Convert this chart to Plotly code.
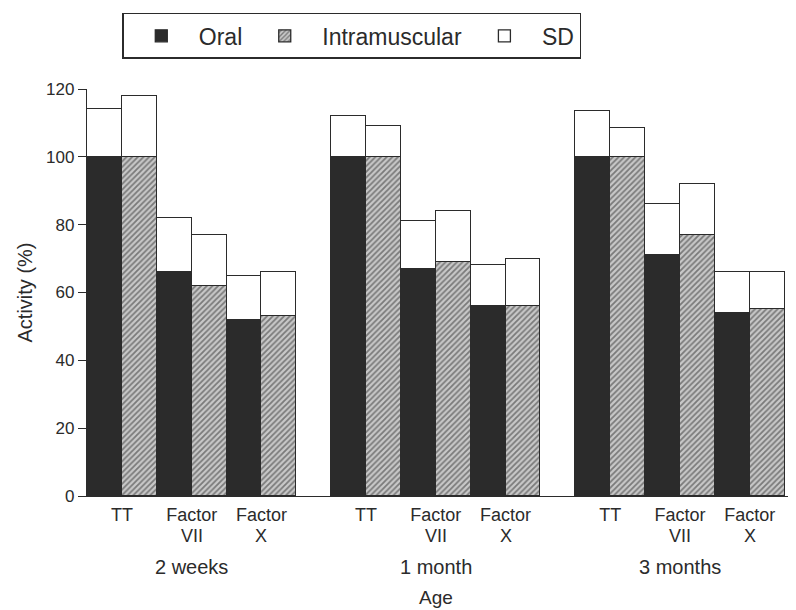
import plotly.graph_objects as go

ages = ["2 weeks", "1 month", "3 months"]
factors_line1 = ["TT", "Factor", "Factor"]
factors_line2 = ["", "VII", "X"]

oral_mean = [100, 66, 52, 100, 67, 56, 100, 71, 54]
oral_sd = [14, 16, 13, 12, 14, 12, 13.5, 15, 12]
im_mean = [100, 62, 53, 100, 69, 56, 100, 77, 55]
im_sd = [18, 15, 13, 9, 15, 14, 8.5, 15, 11]

INK = "#2b2b2b"
FONT = "Liberation Sans, Arial, sans-serif"

# bar slot positions: group g, factor c -> oral at g*7 + c*2, IM next to it
oral_x, im_x, tick_x, tick_t, sub_t = [], [], [], [], []
for g in range(len(ages)):
    for c in range(len(factors_line1)):
        base = g * 7 + c * 2
        oral_x.append(base)
        im_x.append(base + 1)
        tick_x.append(base + 0.5)
        tick_t.append(factors_line1[c])
        sub_t.append(factors_line2[c])

line = dict(color=INK, width=1.3)

fig = go.Figure()
fig.add_trace(go.Bar(x=oral_x, y=oral_mean, width=1, name="Oral",
                     marker=dict(color=INK, line=line)))
fig.add_trace(go.Bar(x=im_x, y=im_mean, width=1, name="Intramuscular",
                     marker=dict(color="white", line=line,
                                 pattern=dict(shape="/", fgcolor=INK, bgcolor="#c8c8c8",
                                              size=4, solidity=0.45))))
fig.add_trace(go.Bar(x=oral_x + im_x, y=oral_sd + im_sd, width=1, name="SD",
                     marker=dict(color="white", line=line)))

# second line of the factor tick labels
for xv, t in zip(tick_x, sub_t):
    if t:
        fig.add_annotation(x=xv, xref="x", y=0, yref="paper", yshift=-40,
                           text=t, showarrow=False, yanchor="middle",
                           font=dict(size=18, color=INK, family=FONT))

for g, age in enumerate(ages):
    fig.add_annotation(x=g * 7 + 2.5, xref="x", y=0, yref="paper", yshift=-71,
                       text=age, showarrow=False, yanchor="middle",
                       font=dict(size=20, color=INK, family=FONT))
fig.add_annotation(x=9.5, xref="x", y=0, yref="paper", yshift=-101,
                   text="Age", showarrow=False, yanchor="middle",
                   font=dict(size=19, color=INK, family=FONT))

fig.update_layout(
    width=788, height=602,
    margin=dict(l=79, r=1, t=81, b=114),
    paper_bgcolor="white", plot_bgcolor="white",
    barmode="stack", bargap=0,
    font=dict(family=FONT, color=INK, size=16),
    showlegend=True,
    legend=dict(orientation="h", traceorder="normal",
                x=0.374, xanchor="center", y=1.187, yanchor="top",
                bordercolor=INK, borderwidth=1.5, font=dict(size=23, family=FONT),
                itemwidth=65, tracegroupgap=0),
    xaxis=dict(range=[-0.5, 19.8], tickvals=tick_x, ticktext=tick_t,
               showline=True, linecolor=INK, linewidth=1.3, ticks="",
               ticklabelstandoff=2,
               showgrid=False, zeroline=False, tickfont=dict(size=18)),
    yaxis=dict(range=[0, 120], dtick=20, showline=True, linecolor=INK, linewidth=1.3,
               ticks="outside", ticklen=8, tickcolor=INK, showgrid=False, zeroline=False,
               tickfont=dict(size=17),
               title=dict(text="Activity (%)", font=dict(size=20), standoff=8)),
)

fig.write_html("out.html")
